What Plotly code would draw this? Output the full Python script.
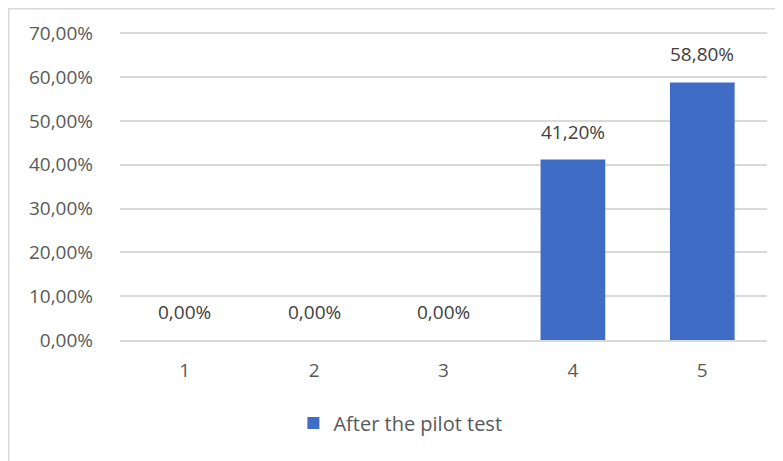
import plotly.graph_objects as go

# Data
categories = ["1", "2", "3", "4", "5"]
after_pilot = [0.0, 0.0, 0.0, 0.412, 0.588]
series_name = "After the pilot test"
y_ticks = [0, 0.1, 0.2, 0.3, 0.4, 0.5, 0.6, 0.7]

FONT = "Open Sans"
BAR_COLOR = "#3F6DC6"

# the page body adds an 8px margin, so the figure is sized/offset to compensate
fig = go.Figure()

fig.add_trace(go.Bar(
    x=categories,
    y=after_pilot,
    name=series_name,
    marker=dict(color=BAR_COLOR, line=dict(width=0)),
    showlegend=True,
    hoverinfo="skip",
))

# data labels above the bars (x given as category index: names look numeric)
for i, val in enumerate(after_pilot):
    fig.add_annotation(
        x=i, y=val,
        text=f"{val * 100:.2f}%".replace(".", ","),
        showarrow=False,
        yanchor="bottom",
        yshift=13,
        font=dict(family=FONT, size=19, color="#404040"),
    )

# light outer chart frame (left and top edges visible)
fig.add_shape(
    type="rect", xref="paper", yref="paper",
    x0=-0.1719, x1=1.2, y0=-0.5, y1=1.065,
    line=dict(color="#D9D9D9", width=1.5),
    fillcolor="rgba(0,0,0,0)",
    layer="below",
)

fig.update_layout(
    width=775,
    height=453,
    margin=dict(l=112, r=16, t=21, b=121),
    paper_bgcolor="white",
    plot_bgcolor="white",
    separators=", ",
    bargap=0.5,
    font=dict(family=FONT, size=19, color="#595959"),
    showlegend=True,
    legend=dict(
        orientation="h",
        x=0.268, xanchor="left",
        y=-0.267, yanchor="middle",
        font=dict(family=FONT, size=20, color="#595959"),
        itemwidth=30,
    ),
    xaxis=dict(
        type="category",
        range=[-0.5, len(categories) - 0.5],
        showgrid=False,
        showline=True,
        linecolor="#D9D9D9",
        linewidth=1.5,
        ticks="",
        ticklabelstandoff=12,
        tickfont=dict(size=19, color="#595959"),
    ),
    yaxis=dict(
        range=[0, 0.71],
        tickvals=y_ticks,
        tickformat=".2%",
        showgrid=True,
        gridcolor="#D9D9D9",
        gridwidth=1.5,
        zeroline=False,
        showline=False,
        ticks="",
        ticklabelstandoff=26,
        tickfont=dict(size=19, color="#595959"),
    ),
)

fig.write_html("out.html")
